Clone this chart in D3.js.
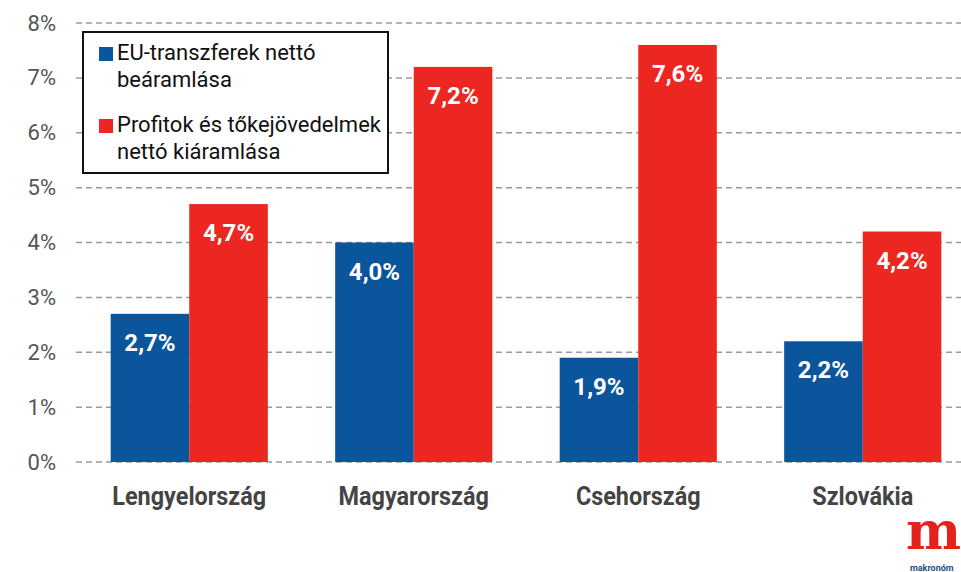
<!DOCTYPE html>
<html>
<head>
<meta charset="utf-8">
<script src="https://cdn.jsdelivr.net/npm/d3@7"></script>
<style>
  body { margin: 0; background: #fff; }
  text { font-family: Roboto, "Noto Sans", sans-serif; }
</style>
</head>
<body>
<div class="chart"></div>
<script>
// adatok
const orszagok = ["Lengyelország", "Magyarország", "Csehország", "Szlovákia"];
const euTranszfer = [2.7, 4.0, 1.9, 2.2];
const profitKiaramlas = [4.7, 7.2, 7.6, 4.2];
const sorozatNevek = [["EU-transzferek nettó", "beáramlása"], ["Profitok és tőkejövedelmek", "nettó kiáramlása"]];
const yTicks = [0, 1, 2, 3, 4, 5, 6, 7, 8];

const szinek = ["#0b559c", "#ec2621"];

const width = 961, height = 572;
const margin = { top: 23, right: -14, bottom: 110, left: 77 };

const svg = d3.select(".chart").append("svg")
    .attr("width", width)
    .attr("height", height);

// scales
const x = d3.scaleBand()
    .domain(orszagok)
    .range([margin.left, width - margin.right])
    .paddingInner(0.3)
    .paddingOuter(0.15);

const xSub = d3.scaleBand()
    .domain([0, 1])
    .range([0, x.bandwidth()]);

const y = d3.scaleLinear()
    .domain([0, 8])
    .range([height - margin.bottom, margin.top]);

// dashed gridlines
svg.append("g")
    .selectAll("line")
    .data(yTicks)
    .enter().append("line")
    .attr("x1", margin.left - 1)
    .attr("x2", width)
    .attr("y1", d => y(d))
    .attr("y2", d => y(d))
    .attr("stroke", "#9a9a9a")
    .attr("stroke-width", 1.5)
    .attr("stroke-dasharray", "6,4");

// y axis labels
const yAxis = svg.append("g")
    .attr("transform", `translate(${margin.left - 21},0)`)
    .call(d3.axisLeft(y).tickValues(yTicks).tickFormat(d => d + "%").tickSize(0).tickPadding(0));
yAxis.select(".domain").remove();
yAxis.selectAll("text")
    .style("font-size", "22px")
    .style("font-family", "Roboto, sans-serif")
    .attr("fill", "#555");

// bars
const adat = orszagok.map((o, i) => ({ orszag: o, ertekek: [euTranszfer[i], profitKiaramlas[i]] }));

const csoport = svg.selectAll(".csoport")
    .data(adat)
    .enter().append("g")
    .attr("class", "csoport")
    .attr("transform", d => `translate(${x(d.orszag)},0)`);

csoport.selectAll("rect")
    .data(d => d.ertekek.map((v, k) => ({ v, k })))
    .enter().append("rect")
    .attr("x", d => xSub(d.k))
    .attr("width", xSub.bandwidth())
    .attr("y", d => y(d.v))
    .attr("height", d => y(0) - y(d.v))
    .attr("fill", d => szinek[d.k]);

// value labels inside bars
csoport.selectAll(".ertek")
    .data(d => d.ertekek.map((v, k) => ({ v, k })))
    .enter().append("text")
    .attr("class", "ertek")
    .attr("x", d => xSub(d.k) + xSub.bandwidth() / 2)
    .attr("y", d => y(d.v) + 37)
    .attr("text-anchor", "middle")
    .style("font-size", "24px")
    .style("font-weight", "bold")
    .attr("fill", "#fff")
    .text(d => d3.format(".1f")(d.v).replace(".", ",") + "%");

// category labels (condensed look)
svg.append("g")
    .selectAll("text")
    .data(orszagok)
    .enter().append("text")
    .attr("x", d => x(d) + x.bandwidth() / 2)
    .attr("y", height - margin.bottom + 43)
    .attr("text-anchor", "middle")
    .style("font-size", "26px")
    .style("font-weight", "bold")
    .attr("fill", "#444")
    .text(d => d)
    .each(function() {
        const w = this.getComputedTextLength();
        d3.select(this).attr("textLength", w * 0.9).attr("lengthAdjust", "spacingAndGlyphs");
    });

// legend
const legend = svg.append("g").attr("transform", "translate(83,32)");
legend.append("rect")
    .attr("width", 305)
    .attr("height", 141)
    .attr("fill", "#fff")
    .attr("stroke", "#111")
    .attr("stroke-width", 2);

sorozatNevek.forEach((sorok, k) => {
    const g = legend.append("g").attr("transform", `translate(0,${k * 72})`);
    g.append("rect")
        .attr("x", 16)
        .attr("y", 15)
        .attr("width", 14)
        .attr("height", 14)
        .attr("fill", szinek[k]);
    sorok.forEach((s, j) => {
        g.append("text")
            .attr("x", 34)
            .attr("y", 28 + j * 27)
            .style("font-size", "22px")
            .attr("fill", "#111")
            .text(s);
    });
});

// logo
svg.append("text")
    .attr("x", 906)
    .attr("y", 549)
    .style("font-family", "'DejaVu Serif', serif")
    .style("font-size", "52px")
    .style("font-weight", "bold")
    .attr("fill", "#e3211d")
    .text("m");
svg.append("text")
    .attr("x", 910)
    .attr("y", 571)
    .style("font-size", "9px")
    .style("font-weight", "bold")
    .attr("fill", "#1f4f8f")
    .text("makronóm");
</script>
</body>
</html>
